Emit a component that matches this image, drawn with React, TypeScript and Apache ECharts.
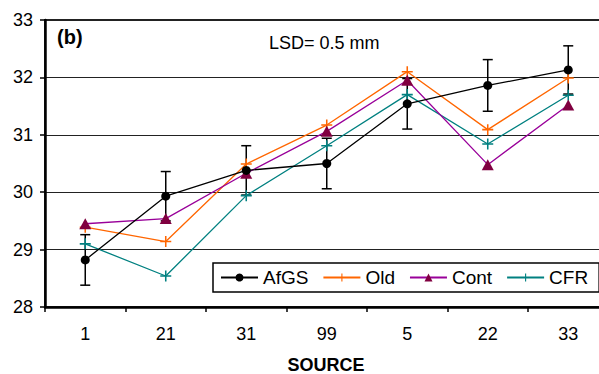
import React, { useEffect, useRef } from "react";
import * as echarts from "echarts";

const categories = ["1", "21", "31", "99", "5", "22", "33"];
const afgs = [28.82, 29.93, 30.38, 30.5, 31.54, 31.86, 32.13];
const afgsErr = [0.44, 0.43, 0.43, 0.44, 0.44, 0.45, 0.42];
const oldS = [29.39, 29.14, 30.49, 31.17, 32.1, 31.09, 31.99];
const cont = [29.45, 29.54, 30.33, 31.06, 31.95, 30.48, 31.52];
const cfr = [29.1, 28.54, 29.94, 30.81, 31.7, 30.84, 31.69];
const yTicks = { min: 28, max: 33, interval: 1 };

const FONT = "'Liberation Sans', Arial, sans-serif";
const PLUS =
  "path://M4.3,0 h1.4 v4.3 h4.3 v1.4 h-4.3 v4.3 h-1.4 v-4.3 h-4.3 v-1.4 h4.3 z";

export default function App() {
  const ref = useRef<HTMLDivElement>(null);
  useEffect(() => {
    if (!ref.current) return;
    const chart = echarts.init(ref.current, null, { renderer: "svg" });
    const errData = afgs.map((v, i) => [i, v - afgsErr[i], v + afgsErr[i]]);
    chart.setOption({
      animation: false,
      textStyle: { fontFamily: FONT },
      grid: {
        left: 45,
        top: 20,
        bottom: 67,
        right: -9.5,
        show: true,
        borderColor: "#222",
        borderWidth: 2,
        backgroundColor: "transparent",
        outerBoundsMode: "none",
      },
      legend: {
        data: ["AfGS", "Old", "Cont", "CFR"],
        left: 213,
        top: 263,
        width: 390,
        orient: "horizontal",
        itemWidth: 37,
        itemHeight: 10,
        itemGap: 14,
        padding: [5, 11, 5, 7],
        backgroundColor: "#fff",
        borderColor: "#000",
        borderWidth: 1.5,
        borderRadius: 0,
        textStyle: { fontSize: 19, color: "#000", fontFamily: FONT },
      },
      xAxis: {
        type: "category",
        data: categories,
        boundaryGap: true,
        axisLine: { show: true, lineStyle: { color: "#000", width: 2.5 } },
        axisTick: { show: true, length: 5, lineStyle: { color: "#000", width: 1.5 } },
        axisLabel: { fontSize: 18, color: "#000", margin: 18, fontFamily: FONT },
        splitLine: { show: false },
      },
      yAxis: {
        type: "value",
        min: yTicks.min,
        max: yTicks.max,
        interval: yTicks.interval,
        axisLine: { show: true, lineStyle: { color: "#000", width: 2.5 } },
        axisTick: { show: true, length: 5, lineStyle: { color: "#000", width: 1.5 } },
        axisLabel: { fontSize: 18, color: "#000", margin: 12, fontFamily: FONT },
        splitLine: { show: true, lineStyle: { color: "#222", width: 1.2 } },
      },
      graphic: [
        {
          type: "text",
          left: 57,
          top: 27,
          style: { text: "(b)", font: `bold 20px ${FONT}`, fill: "#000" },
        },
        {
          type: "text",
          left: 269,
          top: 34,
          style: { text: "LSD= 0.5 mm", font: `18px ${FONT}`, fill: "#000" },
        },
        {
          type: "text",
          x: 326,
          y: 365,
          style: {
            text: "SOURCE",
            font: `bold 18px ${FONT}`,
            fill: "#000",
            align: "center",
            verticalAlign: "middle",
          },
        },
      ],
      series: [
        {
          name: "AfGS err",
          type: "custom",
          data: errData,
          encode: { x: 0, y: [1, 2] },
          z: 3,
          renderItem: (params: any, api: any) => {
            const x = api.value(0);
            const lo = api.coord([x, api.value(1)]);
            const hi = api.coord([x, api.value(2)]);
            const w = 5;
            const style = { stroke: "#000", lineWidth: 1.5 };
            return {
              type: "group",
              children: [
                { type: "line", shape: { x1: lo[0], y1: lo[1], x2: hi[0], y2: hi[1] }, style },
                { type: "line", shape: { x1: lo[0] - w, y1: lo[1], x2: lo[0] + w, y2: lo[1] }, style },
                { type: "line", shape: { x1: hi[0] - w, y1: hi[1], x2: hi[0] + w, y2: hi[1] }, style },
              ],
            };
          },
        },
        {
          name: "CFR",
          type: "line",
          data: cfr,
          symbol: PLUS,
          symbolSize: 11,
          lineStyle: { color: "#008080", width: 1.3 },
          itemStyle: { color: "#008080" },
          z: 4,
        },
        {
          name: "Old",
          type: "line",
          data: oldS,
          symbol: PLUS,
          symbolSize: 11,
          lineStyle: { color: "#FF6600", width: 1.3 },
          itemStyle: { color: "#FF6600" },
          z: 5,
        },
        {
          name: "Cont",
          type: "line",
          data: cont,
          symbol: "triangle",
          symbolSize: [12, 11],
          lineStyle: { color: "#990099", width: 1.3 },
          itemStyle: { color: "#800040" },
          z: 6,
        },
        {
          name: "AfGS",
          type: "line",
          data: afgs,
          symbol: "circle",
          symbolSize: 9,
          lineStyle: { color: "#000", width: 1.3 },
          itemStyle: { color: "#000" },
          z: 7,
        },
      ],
    });
    return () => chart.dispose();
  }, []);
  return (
    <div
      ref={ref}
      style={{ position: "absolute", left: 0, top: 0, width: 599, height: 374, background: "#fff" }}
    />
  );
}
